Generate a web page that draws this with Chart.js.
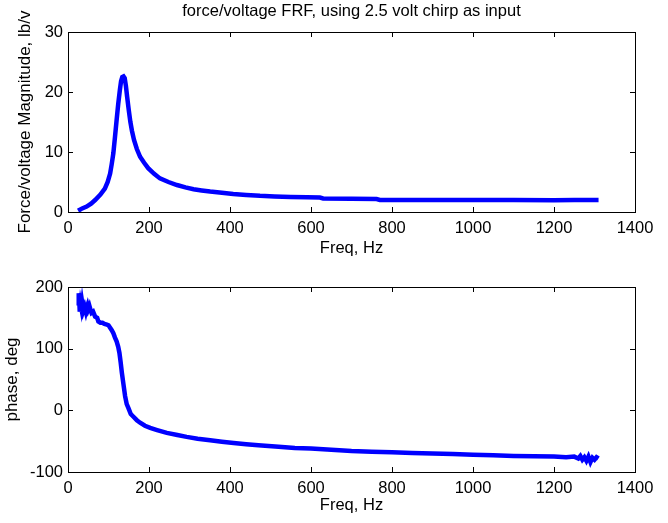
<!DOCTYPE html>
<html>
<head>
<meta charset="utf-8">
<script src="https://cdn.jsdelivr.net/npm/chart.js@4.4.0/dist/chart.umd.min.js"></script>
<style>
  body { margin: 0; background: #fff; }
  .plot { position: absolute; left: 0; width: 668px; }
  #magBox { top: 0; height: 262px; }
  #phaseBox { top: 262px; height: 261px; }
</style>
</head>
<body>
<div class="plot" id="magBox"><canvas id="magChart"></canvas></div>
<div class="plot" id="phaseBox"><canvas id="phaseChart"></canvas></div>
<script>
// data
var magFreq = [25, 35, 46, 57, 67, 80, 91, 98, 104, 108, 112, 116, 120, 124, 128, 131, 134, 137, 140, 143, 146, 150, 154, 158, 163, 170, 178, 188, 198, 212, 227, 248, 269, 290, 310, 330, 351, 380, 408, 440, 474, 510, 550, 590, 622, 630, 700, 762, 770, 900, 1000, 1100, 1200, 1250, 1310];
var magVals = [0.2, 0.6, 0.9, 1.4, 2.0, 2.9, 3.9, 5.0, 6.4, 8.0, 9.8, 12.5, 15.3, 18.0, 20.3, 21.8, 22.5, 22.6, 22.3, 21.0, 19.2, 17.0, 15.0, 13.5, 12.0, 10.5, 9.2, 8.2, 7.3, 6.4, 5.6, 5.0, 4.5, 4.1, 3.8, 3.6, 3.4, 3.2, 3.0, 2.85, 2.7, 2.6, 2.5, 2.45, 2.4, 2.25, 2.2, 2.15, 2.0, 2.0, 2.0, 2.0, 1.95, 2.0, 2.0];

var phaseFreq = [25, 26, 27, 28, 29, 31, 33, 35, 38, 41, 44, 46, 48, 50, 53, 56, 58, 62, 67, 72, 75, 80, 85, 90, 96, 100, 104, 108, 112, 116, 120, 124, 127, 130, 133, 137, 141, 145, 149, 155, 161, 170, 178, 190, 203, 220, 244, 270, 293, 320, 351, 380, 409, 440, 470, 520, 560, 600, 650, 700, 750, 800, 850, 900, 950, 1000, 1050, 1100, 1150, 1200, 1230, 1250, 1260, 1265, 1270, 1275, 1280, 1285, 1290, 1295, 1300, 1305, 1310];
var phaseVals = [170, 185, 190, 175, 160, 172, 165, 175, 162, 168, 160, 166, 170, 164, 169, 162, 158, 160, 152, 150, 144, 142, 142, 140, 139, 138, 134, 130, 125, 118, 112, 103, 93, 78, 61, 42, 23, 10, 4, -6, -10, -16, -20, -25, -28.5, -32, -36.6, -40, -43, -46, -48.6, -51, -53, -55, -56.7, -59, -61, -62, -64, -66, -67, -68, -69, -70, -71, -72, -73, -74, -74.5, -75, -76, -75, -78, -74, -80, -76, -82, -75, -84, -77, -80, -76, -78];

var freqTicks = [0, 200, 400, 600, 800, 1000, 1200, 1400];

Chart.defaults.font.family = '"Liberation Sans", Arial, sans-serif';
Chart.defaults.font.size = 16.5;
Chart.defaults.color = '#000';

function pairs(xs, ys) {
  return xs.map(function(x, i) { return { x: x, y: ys[i] }; });
}

// matlab style box with inward ticks
var boxPlugin = {
  id: 'box',
  afterDraw: function(chart) {
    var ctx = chart.ctx, a = chart.chartArea;
    var xs = chart.scales.x, ys = chart.scales.y;
    var len = 5;
    ctx.save();
    ctx.strokeStyle = '#000';
    ctx.lineWidth = 1;
    ctx.beginPath();
    xs.ticks.forEach(function(t) {
      var px = Math.round(xs.getPixelForValue(t.value)) + 0.5;
      ctx.moveTo(px, a.bottom); ctx.lineTo(px, a.bottom - len);
      ctx.moveTo(px, a.top); ctx.lineTo(px, a.top + len);
    });
    ys.ticks.forEach(function(t) {
      var py = Math.round(ys.getPixelForValue(t.value)) + 0.5;
      ctx.moveTo(a.left, py); ctx.lineTo(a.left + len, py);
      ctx.moveTo(a.right, py); ctx.lineTo(a.right - len, py);
    });
    ctx.stroke();
    ctx.strokeRect(Math.round(a.left) + 0.5, Math.round(a.top) + 0.5, Math.round(a.right - a.left), Math.round(a.bottom - a.top));
    ctx.restore();
  }
};

function makeChart(id, xs, ys, yMin, yMax, yStep, yLabel, opts) {
  var ctx = document.getElementById(id).getContext('2d');
  return new Chart(ctx, {
    type: 'line',
    data: {
      datasets: [{
        data: pairs(xs, ys),
        borderColor: '#0000ff',
        borderWidth: 4.5,
        pointRadius: 0,
        tension: 0,
        fill: false
      }]
    },
    options: {
      responsive: true,
      maintainAspectRatio: false,
      animation: false,
      events: [],
      layout: { padding: opts.padding },
      plugins: {
        legend: { display: false },
        tooltip: { enabled: false },
        title: opts.title
      },
      scales: {
        x: {
          type: 'linear',
          min: 0, max: 1400,
          afterBuildTicks: function(s) { s.ticks = freqTicks.map(function(v) { return { value: v }; }); },
          grid: { display: false, drawTicks: false },
          border: { display: false },
          ticks: { padding: 7, maxRotation: 0, callback: function(v) { return String(v); } },
          title: { display: true, text: 'Freq, Hz', padding: 0 },
          afterFit: function(s) { s.height = opts.xHeight; }
        },
        y: {
          min: yMin, max: yMax,
          ticks: { stepSize: yStep, padding: 5 },
          grid: { display: false, drawTicks: false },
          border: { display: false },
          title: { display: true, text: yLabel, padding: 0, font: { size: 17 } },
          afterFit: function(s) { s.width = opts.yWidth; }
        }
      }
    },
    plugins: [boxPlugin]
  });
}

makeChart('magChart', magFreq, magVals, 0, 30, 10, 'Force/voltage Magnitude, lb/v', {
  padding: { left: 15, right: 33, top: 0, bottom: 4 },
  yWidth: 53,
  xHeight: 46,
  title: {
    display: true,
    text: 'force/voltage FRF, using 2.5 volt chirp as input',
    fullSize: false,
    font: { size: 16.5, weight: 'normal' },
    padding: { top: 2, bottom: 10.2 }
  }
});

makeChart('phaseChart', phaseFreq, phaseVals, -100, 200, 100, 'phase, deg', {
  padding: { left: 2, right: 33, top: 25, bottom: 8 },
  yWidth: 66,
  xHeight: 43,
  title: { display: false }
});
</script>
</body>
</html>
